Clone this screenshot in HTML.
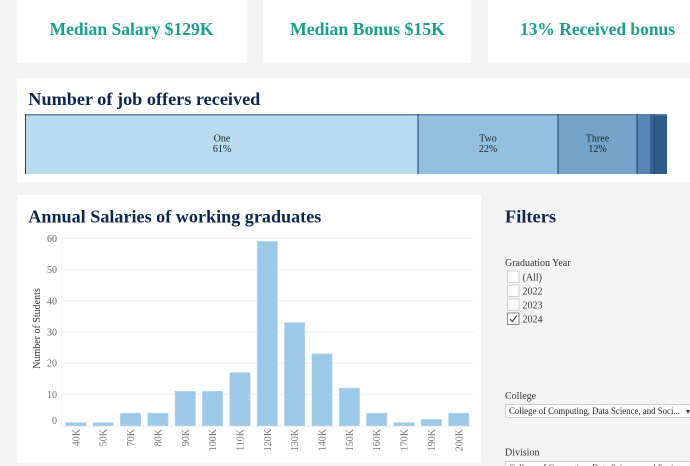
<!DOCTYPE html>
<html><head><meta charset="utf-8">
<style>
html,body{margin:0;padding:0;}
body{width:690px;height:466px;background:#f4f4f4;position:relative;overflow:hidden;font-family:"Liberation Serif",serif;}
.card{position:absolute;background:#fff;}
svg{position:absolute;left:0;top:0;}
</style></head><body>
<div class="card" style="left:17px;top:0;width:230px;height:63px;"></div>
<div class="card" style="left:263px;top:0;width:208px;height:63px;"></div>
<div class="card" style="left:488px;top:0;width:202px;height:63px;"></div>
<div class="card" style="left:17px;top:78px;width:673px;height:104px;"></div>
<div class="card" style="left:17px;top:195px;width:464px;height:268px;"></div>
<svg width="690" height="466" viewBox="0 0 690 466" xmlns="http://www.w3.org/2000/svg" font-family="Liberation Serif, serif">
  <g font-size="17.5" font-weight="bold" fill="#17a08c">
    <text x="49.5" y="35" textLength="164" lengthAdjust="spacingAndGlyphs">Median Salary $129K</text>
    <text x="290" y="35" textLength="155" lengthAdjust="spacingAndGlyphs">Median Bonus $15K</text>
    <text x="520" y="35" textLength="155" lengthAdjust="spacingAndGlyphs">13% Received bonus</text>
  </g>
  <text x="28.3" y="105" font-size="17.5" font-weight="bold" fill="#0d2550" textLength="232" lengthAdjust="spacingAndGlyphs">Number of job offers received</text>
  <!-- stacked bar -->
  <rect x="25" y="114" width="393" height="60" fill="#b9ddf0"/>
  <rect x="418" y="114" width="140" height="60" fill="#94c0e0"/>
  <rect x="558" y="114" width="79" height="60" fill="#74a4ca"/>
  <rect x="637" y="114" width="14" height="60" fill="#5686b6"/>
  <rect x="651" y="114" width="3" height="60" fill="#3d6d9f"/>
  <rect x="654" y="114" width="13" height="60" fill="#2d5b8a"/>
  <rect x="25" y="114" width="642" height="1.5" fill="#5d82ab"/>
  <g fill="#1f3f6e">
    <rect x="25" y="114" width="1" height="60"/>
    <rect x="417.5" y="114" width="1" height="60"/>
    <rect x="557.5" y="114" width="1" height="60"/>
    <rect x="636.5" y="114" width="1" height="60"/>
    <rect x="650.5" y="114" width="1" height="60"/>
    <rect x="653.5" y="114" width="1" height="60"/>
  </g>
  <g font-size="10" fill="#222" text-anchor="middle">
    <text x="222" y="141.5">One</text><text x="222" y="152">61%</text>
    <text x="488" y="141.5">Two</text><text x="488" y="152">22%</text>
    <text x="597.5" y="141.5">Three</text><text x="597.5" y="152">12%</text>
  </g>

  <text x="28.3" y="222.5" font-size="17.5" font-weight="bold" fill="#0d2550" textLength="293" lengthAdjust="spacingAndGlyphs">Annual Salaries of working graduates</text>
  <!-- gridlines -->
  <g stroke="#f0f0f0" stroke-width="1">
    <line x1="62" y1="238.3" x2="474" y2="238.3"/>
    <line x1="62" y1="269.5" x2="474" y2="269.5"/>
    <line x1="62" y1="300.8" x2="474" y2="300.8"/>
    <line x1="62" y1="332" x2="474" y2="332"/>
    <line x1="62" y1="363.2" x2="474" y2="363.2"/>
    <line x1="62" y1="394.5" x2="474" y2="394.5"/>
    <line x1="62" y1="426.5" x2="474" y2="426.5"/>
    <line x1="62" y1="233" x2="62" y2="427"/>
  </g>
  <g font-size="10" fill="#666" text-anchor="end">
    <text x="57" y="241.8">60</text>
    <text x="57" y="273">50</text>
    <text x="57" y="304.3">40</text>
    <text x="57" y="335.5">30</text>
    <text x="57" y="366.7">20</text>
    <text x="57" y="398">10</text>
    <text x="57" y="424">0</text>
  </g>
  <text transform="translate(40,328.5) rotate(-90)" font-size="10" fill="#333" text-anchor="middle">Number of Students</text>
  <g fill="#9dc9e8" stroke="#b5d7ef" stroke-width="0.6">
    <rect x="65.7" y="422.6" width="20.3" height="3.1"/>
    <rect x="93.05" y="422.6" width="20.3" height="3.1"/>
    <rect x="120.4" y="413.2" width="20.3" height="12.5"/>
    <rect x="147.75" y="413.2" width="20.3" height="12.5"/>
    <rect x="175.1" y="391.3" width="20.3" height="34.4"/>
    <rect x="202.45" y="391.3" width="20.3" height="34.4"/>
    <rect x="229.8" y="372.6" width="20.3" height="53.1"/>
    <rect x="257.15" y="241.4" width="20.3" height="184.3"/>
    <rect x="284.5" y="322.6" width="20.3" height="103.1"/>
    <rect x="311.85" y="353.9" width="20.3" height="71.8"/>
    <rect x="339.2" y="388.2" width="20.3" height="37.5"/>
    <rect x="366.55" y="413.2" width="20.3" height="12.5"/>
    <rect x="393.9" y="422.6" width="20.3" height="3.1"/>
    <rect x="421.25" y="419.5" width="20.3" height="6.2"/>
    <rect x="448.6" y="413.2" width="20.3" height="12.5"/>
  </g>
  <g font-size="10" fill="#777" text-anchor="end">
    <text transform="translate(79.4,429) rotate(-90)">40K</text>
    <text transform="translate(106.7,429) rotate(-90)">50K</text>
    <text transform="translate(134.1,429) rotate(-90)">70K</text>
    <text transform="translate(161.4,429) rotate(-90)">80K</text>
    <text transform="translate(188.8,429) rotate(-90)">90K</text>
    <text transform="translate(216.1,429) rotate(-90)">100K</text>
    <text transform="translate(243.5,429) rotate(-90)">110K</text>
    <text transform="translate(270.8,429) rotate(-90)">120K</text>
    <text transform="translate(298.2,429) rotate(-90)">130K</text>
    <text transform="translate(325.5,429) rotate(-90)">140K</text>
    <text transform="translate(352.9,429) rotate(-90)">150K</text>
    <text transform="translate(380.2,429) rotate(-90)">160K</text>
    <text transform="translate(407.6,429) rotate(-90)">170K</text>
    <text transform="translate(434.9,429) rotate(-90)">190K</text>
    <text transform="translate(462.3,429) rotate(-90)">200K</text>
  </g>

  <!-- Filters -->
  <text x="505" y="222.5" font-size="17.5" font-weight="bold" fill="#0d2550" textLength="51" lengthAdjust="spacingAndGlyphs">Filters</text>
  <text x="505" y="266" font-size="10" fill="#333">Graduation Year</text>
  <g fill="#fafafa" stroke="#cfcfcf" stroke-width="1">
    <rect x="507.5" y="271" width="11.5" height="11.5"/>
    <rect x="507.5" y="285" width="11.5" height="11.5"/>
    <rect x="507.5" y="299" width="11.5" height="11.5"/>
  </g>
  <rect x="507.5" y="313" width="11.5" height="11.5" fill="#fafafa" stroke="#888" stroke-width="1"/>
  <path d="M509.8 318.8 L512.3 321.6 L516.8 315.6" fill="none" stroke="#333" stroke-width="1"/>
  <g font-size="10" fill="#333">
    <text x="522.5" y="280.5">(All)</text>
    <text x="522.5" y="294.5">2022</text>
    <text x="522.5" y="308.5">2023</text>
    <text x="522.5" y="322.5">2024</text>
  </g>
  <text x="505" y="399" font-size="10" fill="#333">College</text>
  <rect x="505.5" y="404.5" width="200" height="13" fill="#fff" stroke="#cfcfcf" stroke-width="1"/>
  <text x="509" y="414" font-size="9.5" fill="#222" textLength="171" lengthAdjust="spacingAndGlyphs">College of Computing, Data Science, and Soci...</text>
  <text x="686" y="414" font-size="8" fill="#333">▾</text>
  <text x="505" y="455.5" font-size="10" fill="#333">Division</text>
  <rect x="505.5" y="461.5" width="200" height="13" fill="#fff" stroke="#cfcfcf" stroke-width="1"/>
  <text x="509" y="471" font-size="9.5" fill="#222" textLength="171" lengthAdjust="spacingAndGlyphs">College of Computing, Data Science, and Soci...</text>
</svg>
</body></html>
